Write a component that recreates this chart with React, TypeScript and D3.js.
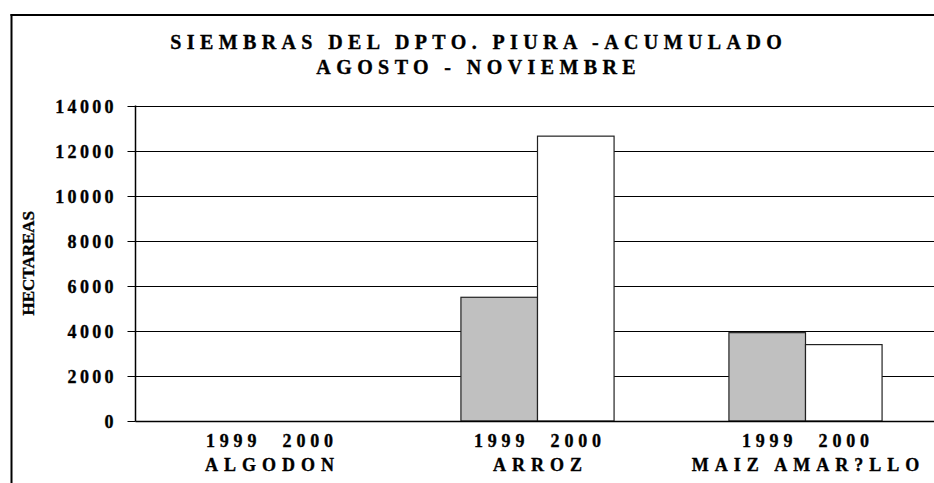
import React from "react";
import * as d3 from "d3";

// chart data (hectareas sembradas, agosto - noviembre)
const categories = ["ALGODON", "ARROZ", "MAIZ AMAR?LLO"];
const years = ["1999", "2000"];
const values1999 = [0, 5490, 3920];
const values2000 = [0, 12640, 3390];
const yTicks = [0, 2000, 4000, 6000, 8000, 10000, 12000, 14000];
const titleLines = ["SIEMBRAS DEL DPTO. PIURA -ACUMULADO", "AGOSTO - NOVIEMBRE"];

const W = 934;
const H = 483;
const FONT = "'Liberation Serif', 'Times New Roman', serif";

export default function App() {
  const plot = { left: 135.5, right: 939.5, top: 105.5, bottom: 421 };

  const x0 = d3.scaleBand<string>().domain(categories).range([plot.left, plot.right]);
  const x1 = d3
    .scaleBand<string>()
    .domain(years)
    .range([0, x0.bandwidth()])
    .paddingInner(0)
    .paddingOuter(0.75);
  const y = d3.scaleLinear().domain([0, 14000]).range([plot.bottom, plot.top]);

  const series = [
    { year: years[0], values: values1999, fill: "#c0c0c0" },
    { year: years[1], values: values2000, fill: "#ffffff" },
  ];

  // heavier text, the original looks like a fat Times bold
  const ink = { fill: "#000", stroke: "#000", strokeWidth: 0.35 };

  return (
    <svg
      width={W}
      height={H}
      style={{ position: "absolute", left: 0, top: 0, background: "#fff" }}
      fontFamily={FONT}
      fontWeight="bold"
    >
      {/* frame (cropped on the right and bottom) */}
      <line x1={10.5} x2={W} y1={15} y2={15} stroke="#000" strokeWidth={2} />
      <line x1={11.5} x2={11.5} y1={14} y2={H} stroke="#000" strokeWidth={2} />

      {/* title */}
      {titleLines.map((t, i) => (
        <text
          key={t}
          x={476 + 2.7}
          y={48.5 + i * 25}
          textAnchor="middle"
          fontSize={20}
          letterSpacing={5.4}
          {...ink}
        >
          {t}
        </text>
      ))}

      {/* gridlines */}
      {yTicks.map((t) => (
        <line
          key={"g" + t}
          x1={plot.left}
          x2={W}
          y1={Math.round(y(t)) + 0.5}
          y2={Math.round(y(t)) + 0.5}
          stroke="#000"
          strokeWidth={1}
        />
      ))}

      {/* bars */}
      {series.map((s) =>
        categories.map((c, i) =>
          s.values[i] > 0 ? (
            <rect
              key={s.year + c}
              x={(x0(c) as number) + (x1(s.year) as number)}
              y={y(s.values[i])}
              width={x1.bandwidth()}
              height={y(0) - y(s.values[i])}
              fill={s.fill}
              stroke="#222"
              strokeWidth={1.2}
            />
          ) : null
        )
      )}

      {/* y axis */}
      <line x1={plot.left} x2={plot.left} y1={y(14000)} y2={y(0)} stroke="#000" strokeWidth={1.5} />
      <line x1={plot.left} x2={W} y1={y(0) + 0.5} y2={y(0) + 0.5} stroke="#000" strokeWidth={1.5} />
      {yTicks.map((t) => (
        <g key={"t" + t}>
          <line
            x1={plot.left - 8}
            x2={plot.left}
            y1={Math.round(y(t)) + 0.5}
            y2={Math.round(y(t)) + 0.5}
            stroke="#000"
          />
          <text
            x={113.5 + 3.3}
            y={y(t) + 7}
            textAnchor="end"
            fontSize={18}
            letterSpacing={3.3}
            {...ink}
          >
            {t}
          </text>
        </g>
      ))}

      <text
        transform={`translate(33.5, ${(plot.top + plot.bottom) / 2}) rotate(-90)`}
        textAnchor="middle"
        fontSize={17}
        {...ink}
      >
        HECTAREAS
      </text>

      {/* category labels */}
      {categories.map((c) => (
        <g key={"c" + c}>
          {years.map((yr) => (
            <text
              key={yr}
              x={(x0(c) as number) + (x1(yr) as number) + x1.bandwidth() / 2 + 2.4}
              y={446.7}
              textAnchor="middle"
              fontSize={18}
              letterSpacing={4.8}
              {...ink}
            >
              {yr}
            </text>
          ))}
          <text
            x={(x0(c) as number) + x0.bandwidth() / 2 + 3}
            y={470.7}
            textAnchor="middle"
            fontSize={18}
            letterSpacing={6}
            {...ink}
          >
            {c}
          </text>
        </g>
      ))}
    </svg>
  );
}
